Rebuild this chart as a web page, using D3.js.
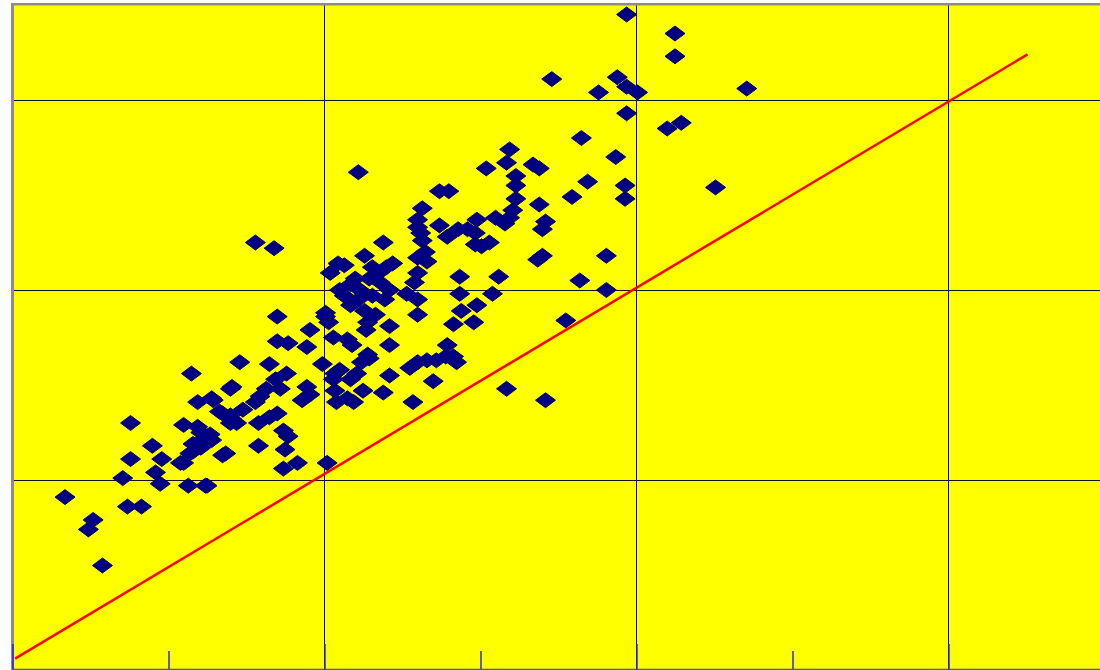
<!DOCTYPE html>
<html>
<head>
<meta charset="utf-8">
<script src="https://cdn.jsdelivr.net/npm/d3@7"></script>
<style>
  body { margin: 0; background: #fff; }
  svg { display: block; }
</style>
</head>
<body>
<script>
// scatter values (x, y)
const xs = [
  3.94, 4.25, 4.25, 3.46, 3.76, 3.88, 3.94, 4.01, 4.71, 3.94,
  4.20, 4.29, 3.65, 3.87, 4.51, 3.69, 3.93, 3.93, 3.59, 3.34,
  3.38, 3.38, 3.19, 3.17, 3.04, 2.22, 3.23, 3.23, 3.23, 3.21,
  3.19, 2.74, 2.80, 2.63, 2.60, 2.60, 2.74, 2.63, 2.65, 2.66,
  2.79, 2.86, 2.92, 2.98, 2.97, 3.10, 3.16, 2.97, 3.06, 3.01,
  3.42, 3.40, 3.40, 3.37, 3.81, 2.87, 3.12, 2.87, 3.08, 3.64,
  3.81, 3.55, 2.98, 2.88, 2.96, 2.83, 2.79, 2.83, 2.72, 2.78,
  2.66, 2.60, 2.55, 2.70, 2.57, 3.17, 3.42, 1.56, 1.68, 2.38,
  2.26, 2.09, 2.04, 2.13, 2.44, 2.40, 2.60, 2.60, 2.58, 2.53,
  2.60, 2.60, 2.17, 2.23, 2.13, 2.29, 2.36, 2.22, 2.31, 2.39,
  2.26, 2.17, 2.42, 2.33, 2.10, 2.20, 2.28, 2.27, 2.42, 2.42,
  2.18, 2.15, 2.06, 2.01, 2.01, 2.03, 1.91, 1.89, 1.70, 1.70,
  1.77, 1.46, 1.65, 1.76, 1.99, 2.07, 1.89, 1.86, 1.15, 1.41,
  1.19, 1.28, 1.33, 1.40, 1.48, 1.56, 1.59, 1.63, 1.69, 1.72,
  1.40, 1.44, 1.58, 1.65, 1.74, 1.70, 1.77, 1.10, 1.21, 1.16,
  1.25, 1.28, 1.14, 1.08, 1.37, 1.58, 1.75, 1.74, 1.83, 2.02,
  1.13, 1.24, 0.34, 0.52, 0.49, 0.58, 0.76, 0.76, 0.71, 0.74,
  0.83, 0.90, 0.96, 0.92, 0.95, 1.10, 1.19, 1.29, 1.40, 1.35,
  1.41, 1.22, 1.27, 1.16, 1.21, 1.35, 1.25, 2.28, 2.24, 2.29,
  2.10, 2.21, 2.17, 2.06, 2.07, 2.15, 2.19, 2.25, 2.08, 2.42,
  2.38, 2.85, 1.91, 2.62, 2.31, 2.35
];
const ys = [
  3.45, 3.35, 3.23, 3.11, 3.04, 3.12, 3.07, 3.04, 3.06, 2.93,
  2.85, 2.88, 2.80, 2.70, 2.54, 2.57, 2.55, 2.48, 2.49, 2.66,
  2.64, 2.45, 2.74, 2.67, 2.64, 2.62, 2.60, 2.55, 2.48, 2.42,
  2.38, 2.52, 2.52, 2.43, 2.37, 2.33, 2.34, 2.26, 2.20, 2.15,
  2.28, 2.32, 2.32, 2.37, 2.30, 2.38, 2.35, 2.24, 2.25, 2.23,
  2.36, 2.32, 2.18, 2.16, 2.18, 2.07, 2.07, 1.98, 1.98, 2.05,
  2.00, 1.84, 1.92, 1.89, 1.83, 1.82, 1.71, 1.65, 1.63, 1.65,
  1.63, 1.62, 1.59, 1.52, 1.41, 1.48, 1.42, 2.25, 2.22, 2.25,
  2.18, 2.14, 2.09, 2.13, 2.14, 2.12, 2.17, 2.09, 2.04, 1.98,
  1.95, 1.87, 2.03, 2.00, 1.97, 2.06, 2.04, 1.95, 1.97, 1.95,
  1.89, 1.92, 2.00, 1.87, 2.00, 2.06, 1.83, 1.79, 1.81, 1.71,
  1.71, 1.74, 1.75, 1.86, 1.88, 1.83, 1.79, 1.70, 1.86, 1.73,
  1.72, 1.62, 1.61, 1.56, 1.61, 1.56, 1.49, 1.42, 1.56, 1.49,
  1.41, 1.43, 1.36, 1.34, 1.37, 1.41, 1.44, 1.48, 1.53, 1.48,
  1.30, 1.30, 1.30, 1.33, 1.26, 1.35, 1.23, 1.29, 1.25, 1.19,
  1.23, 1.21, 1.14, 1.09, 1.14, 1.18, 1.16, 1.06, 1.09, 1.09,
  0.97, 0.97, 0.91, 0.79, 0.74, 0.55, 1.30, 1.11, 1.01, 0.86,
  0.86, 1.18, 1.11, 1.04, 0.98, 1.09, 1.28, 1.42, 1.48, 1.35,
  1.32, 1.21, 1.24, 1.15, 1.17, 1.13, 0.97, 1.66, 1.62, 1.64,
  1.58, 1.56, 1.53, 1.53, 1.47, 1.43, 1.41, 1.47, 1.41, 1.55,
  1.46, 1.62, 1.45, 2.30, 2.12, 2.09
];

// reference line end points
const lineX = [0.02, 6.51];
const lineY = [0.06, 3.24];

// axis / grid positions
const majorTicks = [0, 2, 4, 6];
const minorTicks = [1, 3, 5];
const gridX = [2, 4, 6];
const gridY = [1, 2, 3];

const W = 1100, H = 670;
const svg = d3.select('body').append('svg')
  .attr('width', W)
  .attr('height', H);

const x = d3.scaleLinear().domain([0, 7]).range([12, 1104]);
const y = d3.scaleLinear().domain([0, 3.5]).range([670, 5]);

// frame
svg.append('rect')
  .attr('x', 11).attr('y', 3)
  .attr('width', W - 11).attr('height', H - 3)
  .attr('fill', '#8c8c8c');
svg.append('rect')
  .attr('x', 14).attr('y', 5.5)
  .attr('width', W - 14).attr('height', 663.5)
  .attr('fill', '#ffff00');

// grid
svg.append('g').selectAll('line').data(gridX).join('line')
  .attr('x1', d => x(d) + 0.5).attr('x2', d => x(d) + 0.5)
  .attr('y1', 5.5).attr('y2', 669)
  .attr('stroke', '#000').attr('stroke-width', 1);
svg.append('g').selectAll('line').data(gridY).join('line')
  .attr('x1', 14).attr('x2', W)
  .attr('y1', d => y(d) + 0.5).attr('y2', d => y(d) + 0.5)
  .attr('stroke', '#111').attr('stroke-width', 1);

// bottom axis ticks
const axisG = svg.append('g').attr('transform', 'translate(0.5,669)');
axisG.call(d3.axisBottom(x).tickValues(majorTicks).tickSize(-25).tickFormat(''));
axisG.append('g').call(d3.axisBottom(x).tickValues(minorTicks).tickSize(-18).tickFormat(''))
  .select('.domain').remove();
axisG.selectAll('.tick line').attr('stroke', '#2a2aff').attr('stroke-width', 1.5);
axisG.select('.domain').attr('stroke', '#55559a').attr('stroke-width', 1.5);

// points
const diamond = {
  draw(ctx) {
    ctx.moveTo(0, -7.5);
    ctx.lineTo(10, 0);
    ctx.lineTo(0, 7.5);
    ctx.lineTo(-10, 0);
    ctx.closePath();
  }
};
svg.append('g').selectAll('path').data(xs).join('path')
  .attr('d', d3.symbol().type(diamond))
  .attr('transform', (d, i) => 'translate(' + x(d) + ',' + y(ys[i]) + ')')
  .attr('fill', '#000080')
  .attr('stroke', '#000080')
  .attr('stroke-width', 1)
  .attr('stroke-linejoin', 'round');

// red line
svg.append('path')
  .datum(lineX.map((d, i) => [d, lineY[i]]))
  .attr('d', d3.line().x(d => x(d[0])).y(d => y(d[1])))
  .attr('fill', 'none')
  .attr('stroke', '#ff0000')
  .attr('stroke-width', 2.5);
</script>
</body>
</html>
